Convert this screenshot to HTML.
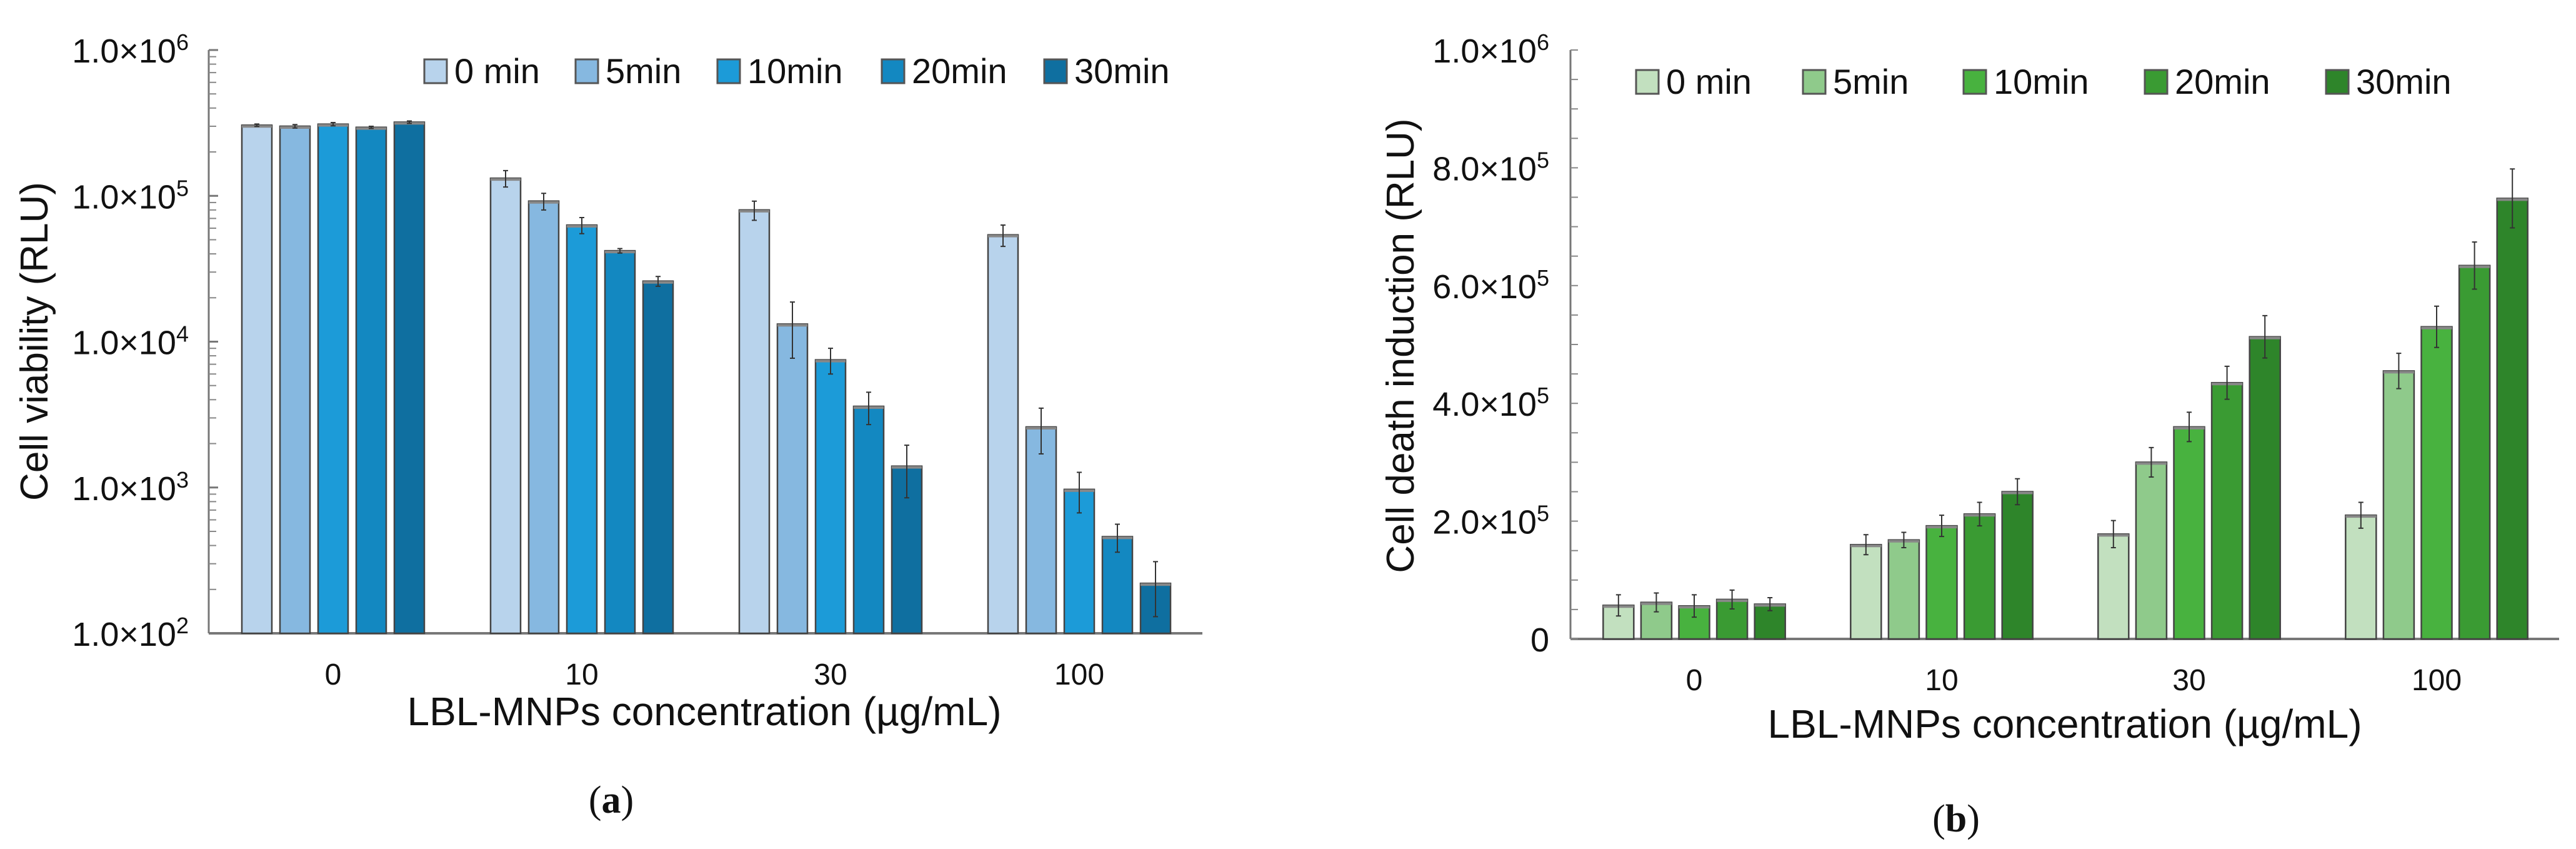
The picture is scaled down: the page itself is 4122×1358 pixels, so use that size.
<!DOCTYPE html>
<html><head><meta charset="utf-8"><style>
html,body{margin:0;padding:0;background:#fff;}
svg{display:block;font-family:"Liberation Sans",sans-serif;}
</style></head><body>
<svg id="fig" width="4122" height="1358" viewBox="0 0 4122 1358" xmlns="http://www.w3.org/2000/svg">
<g id="chartA"></g>
<g id="chartB"></g>
</svg>
<script>
// ---- data ----
const categories = ["0", "10", "30", "100"];
const seriesNames = ["0 min", "5min", "10min", "20min", "30min"];
// Panel (a) cell viability (RLU), log scale; rows = concentration, cols = time
const viab0 = [305000, 300000, 310000, 295000, 320000];
const viab10 = [132000, 92000, 63000, 42000, 26000];
const viab30 = [80000, 13200, 7500, 3600, 1400];
const viab100 = [54000, 2600, 970, 460, 220];
const viabErr0 = [6000, 8000, 8000, 5000, 6000];
const viabErr10 = [17000, 12000, 8000, 1500, 2000];
const viabErr30 = [12000, 5500, 1500, 900, 550];
const viabErr100 = [9000, 900, 300, 100, 90];
// Panel (b) cell death induction (RLU), linear scale
const death0 = [57000, 62000, 56000, 67000, 59000];
const death10 = [160000, 168000, 192000, 212000, 250000];
const death30 = [178000, 300000, 360000, 435000, 513000];
const death100 = [210000, 455000, 530000, 634000, 748000];
const deathErr0 = [18000, 16000, 19000, 16000, 11000];
const deathErr10 = [17000, 13000, 18000, 20000, 22000];
const deathErr30 = [23000, 25000, 25000, 28000, 36000];
const deathErr100 = [22000, 30000, 35000, 40000, 50000];
const ticksA = [2, 3, 4, 5, 6];
const ticksB = [0, 200000, 400000, 600000, 800000, 1000000];
const tickLabelsB = ["0", "2.0", "4.0", "6.0", "8.0", "1.0"];
const tickExpB = ["", "5", "5", "5", "5", "6"];

const blues = ["#b8d3ec", "#86b8e0", "#1c9bd8", "#1388c1", "#0f6fa0"];
const greens = ["#c2e0bf", "#8fca8b", "#48b23f", "#3a9b33", "#2e852a"];
const NS = "http://www.w3.org/2000/svg";
function mk(parent, tag, attrs, text) {
  const e = document.createElementNS(NS, tag);
  for (const k in attrs) e.setAttribute(k, attrs[k]);
  if (text !== undefined) e.textContent = text;
  parent.appendChild(e);
  return e;
}

function drawChart(g, cfg) {
  const {x0, x1, yTop, yBot, yScale, groupW, barW, pitch, colors, values, errs, legendX, legendY} = cfg;
  let ax = mk(g, "line", {x1: x0, y1: yTop, x2: x0, y2: yBot, stroke: "#777", "stroke-width": 3});
  
  
  let bx = mk(g, "line", {x1: x0, y1: yBot, x2: x1, y2: yBot, stroke: "#777", "stroke-width": 4});
  
  
  const xc = i => x0 + groupW / 2 + i * groupW;
  categories.forEach((c, i) => {
    const t = mk(g, "text", {x: xc(i), y: yBot + 82, "font-size": 48, "text-anchor": "middle", fill: "#111"}, c);
    
    
    values[i].forEach((v, j) => {
      const bxp = xc(i) + (j - 2) * pitch - barW / 2;
      const yv = yScale(v);
      const r = mk(g, "rect", {x: bxp, y: yv, width: barW, height: yBot - yv, fill: colors[j], stroke: "#444", "stroke-width": 2.5});
      
      
      mk(g, "line", {x1: bxp, y1: yv + 2, x2: bxp + barW, y2: yv + 2, stroke: "#888", "stroke-width": 4});
      const e = errs[i][j];
      const ya = yScale(v + e), yb = yScale(Math.max(v - e, 1e-9));
      const cx = bxp + barW / 2;
      const el = mk(g, "path", {d: `M${cx} ${ya}V${yb}M${cx - 4} ${ya}h8M${cx - 4} ${yb}h8`, stroke: "#333", "stroke-width": 2, fill: "none"});
      
      
    });
  });
  seriesNames.forEach((n, j) => {
    const lg = mk(g, "g", {});
    
    
    mk(lg, "rect", {x: legendX[j], y: legendY, width: 36, height: 38, fill: colors[j], stroke: "#555", "stroke-width": 3});
    mk(lg, "text", {x: legendX[j] + 48, y: legendY + 38, "font-size": 56, fill: "#111"}, n);
  });
}

// ---- chart a (log) ----
const gA = document.getElementById("chartA");
const A = {x0: 334, x1: 1924, yTop: 80, yBot: 1013};
const logScale = v => A.yTop + (6 - Math.log10(Math.max(v, 100))) * (A.yBot - A.yTop) / 4;
drawChart(gA, Object.assign({}, A, {yScale: logScale, groupW: 398, barW: 48, pitch: 61, colors: blues,
  values: [viab0, viab10, viab30, viab100], errs: [viabErr0, viabErr10, viabErr30, viabErr100],
  legendX: [679, 921, 1148, 1411, 1671], legendY: 95}));
ticksA.forEach(p => {
  const y = logScale(Math.pow(10, p));
  mk(gA, "line", {x1: A.x0, y1: y, x2: A.x0 + 15, y2: y, stroke: "#777", "stroke-width": 3});
  if (p < 6) for (let m = 2; m <= 9; m++) {
    const ym = logScale(m * Math.pow(10, p));
    mk(gA, "line", {x1: A.x0, y1: ym, x2: A.x0 + 12, y2: ym, stroke: "#888", "stroke-width": 2});
  }
  const t = mk(gA, "text", {x: 302, y: y + 20, "font-size": 54, "text-anchor": "end", fill: "#111"});
  
  
  mk(t, "tspan", {}, "1.0\u00d710");
  mk(t, "tspan", {dy: -20, "font-size": 36}, String(p));
});
let tA = mk(gA, "text", {x: 0, y: 0, "font-size": 62, "text-anchor": "middle", fill: "#111", transform: "translate(76,546) rotate(-90)"}, "Cell viability (RLU)");


let xA = mk(gA, "text", {x: 1127, y: 1160, "font-size": 64, "text-anchor": "middle", fill: "#111"}, "LBL-MNPs concentration (\u00b5g/mL)");


let pA = mk(gA, "text", {x: 978, y: 1300, "font-size": 62, "text-anchor": "middle", fill: "#111", "font-family": "Liberation Serif, serif"});
mk(pA, "tspan", {}, "(");
mk(pA, "tspan", {"font-weight": "bold"}, "a");
mk(pA, "tspan", {}, ")");



// ---- chart b (linear) ----
const gB = document.getElementById("chartB");
const B = {x0: 2513, x1: 4095, yTop: 80, yBot: 1022};
const linScale = v => B.yBot - v / 1000000 * (B.yBot - B.yTop);
drawChart(gB, Object.assign({}, B, {yScale: linScale, groupW: 396, barW: 49, pitch: 60.6, colors: greens,
  values: [death0, death10, death30, death100], errs: [deathErr0, deathErr10, deathErr30, deathErr100],
  legendX: [2618, 2885, 3142, 3432, 3722], legendY: 112}));
for (let v = 0; v <= 1000000; v += 50000) {
  const y = linScale(v);
  mk(gB, "line", {x1: B.x0, y1: y, x2: B.x0 + 12, y2: y, stroke: "#888", "stroke-width": 2});
}
ticksB.forEach((v, i) => {
  const y = linScale(v);
  const t = mk(gB, "text", {x: 2479, y: y + 20, "font-size": 54, "text-anchor": "end", fill: "#111"});
  
  
  if (tickExpB[i] === "") { mk(t, "tspan", {}, tickLabelsB[i]); }
  else { mk(t, "tspan", {}, tickLabelsB[i] + "\u00d710"); mk(t, "tspan", {dy: -20, "font-size": 36}, tickExpB[i]); }
});
let tB = mk(gB, "text", {x: 0, y: 0, "font-size": 62, "text-anchor": "middle", fill: "#111", transform: "translate(2262,553) rotate(-90)"}, "Cell death induction (RLU)");


let xB = mk(gB, "text", {x: 3304, y: 1180, "font-size": 64, "text-anchor": "middle", fill: "#111"}, "LBL-MNPs concentration (\u00b5g/mL)");


let pB = mk(gB, "text", {x: 3130, y: 1330, "font-size": 62, "text-anchor": "middle", fill: "#111", "font-family": "Liberation Serif, serif"});
mk(pB, "tspan", {}, "(");
mk(pB, "tspan", {"font-weight": "bold"}, "b");
mk(pB, "tspan", {}, ")");


</script>
</body></html>
